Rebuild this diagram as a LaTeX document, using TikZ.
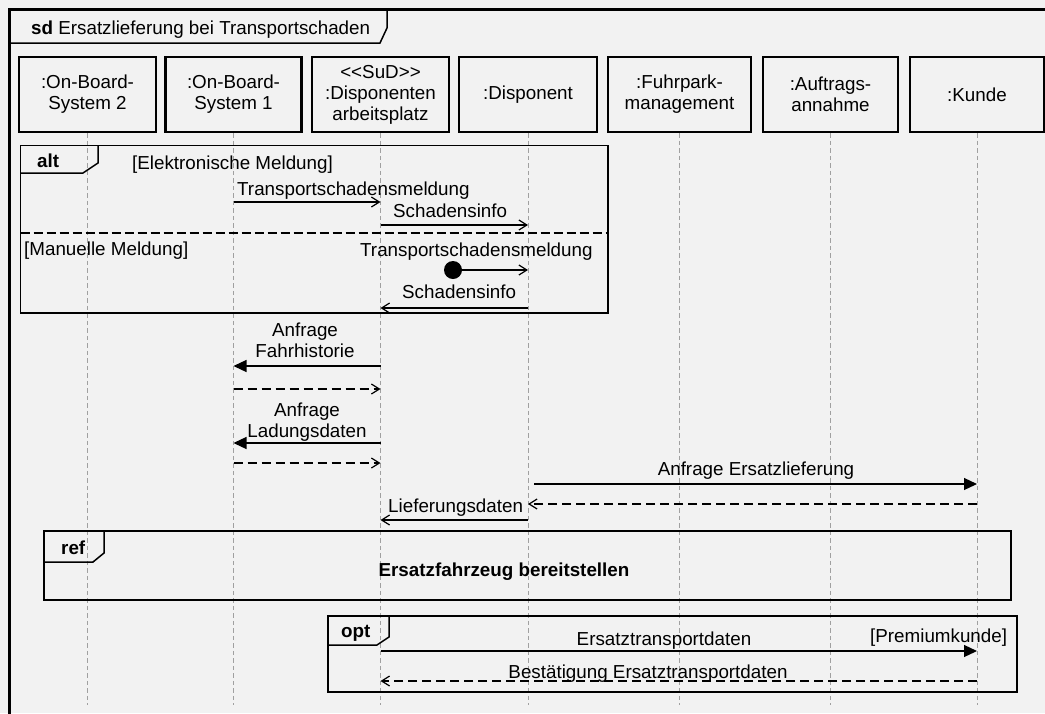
\documentclass[tikz,border=0pt]{standalone}
\usepackage{fontspec}
\setmainfont{Liberation Sans}
\usetikzlibrary{arrows.meta}
\definecolor{bg}{HTML}{F2F2F2}
\definecolor{llgray}{HTML}{A0A0A0}
\begin{document}
\begin{tikzpicture}[x=1pt,y=-1pt,
  font=\fontsize{18.8}{21}\selectfont,
  lbox/.style={draw, line width=2.5pt, minimum height=75pt, inner sep=0pt, align=center},
  life/.style={draw=llgray, line width=0.9pt, dash pattern=on 4.5pt off 3pt},
  msg/.style={line width=1.2pt, -{Straight Barb[length=8pt,width=10pt]}},
  call/.style={line width=1.2pt, -{Triangle[length=13pt,width=12pt]}},
  ret/.style={msg, dash pattern=on 9pt off 5pt},
  frag/.style={draw, line width=1.5pt},
  lbl/.style={inner sep=0pt, anchor=base west},
  clbl/.style={inner sep=0pt, anchor=base},
]
\clip (0,0) rectangle (1045,713);
\fill[bg] (0,0) rectangle (1045,713);
% outer frame
\draw[line width=2.5pt] (9.5,760) -- (9.5,9.5) -- (1100,9.5);
\draw[line width=1.5pt] (9.5,43) -- (380,43) -- (387,28) -- (387,9.5);
\node[lbl] (title) at (31,34) {\textbf{sd} Ersatzlieferung bei Transportschaden};
% lifeline heads
\node[lbox, minimum width=137pt] (L1) at (87.5,94.5) {:On-Board-\\System 2};
\node[lbox, minimum width=136pt] (L2) at (233.5,94.5) {:On-Board-\\System 1};
\node[lbox, minimum width=137pt] (L3) at (380.5,94.5) {<{}<SuD>{}>\\:Disponenten\\arbeitsplatz};
\node[lbox, minimum width=138pt] (L4) at (528,94.5) {:Disponent};
\node[lbox, minimum width=143pt] (L5) at (679.5,94.5) {:Fuhrpark-\\management};
\node[lbox, minimum width=135pt] (L6) at (830.5,94.5) {:Auftrags-\\annahme};
\node[lbox, minimum width=134pt] (L7) at (977,94.5) {:Kunde};
% lifelines
\foreach \n in {L1,L2,L3,L4,L5,L6,L7}{
  \coordinate (\n end) at (\n.south |- 0,705);
  \draw[life] (\n.south) -- (\n end);
}
% alt fragment
\draw[frag] (20.5,145.5) rectangle (608,313);
\draw[frag] (20.5,173) -- (83,173) -- (98,163) -- (98,145.5);
\node[lbl] (altl) at (37,167) {\textbf{alt}};
\node[lbl] (g1) at (132,169) {[Elektronische Meldung]};
\draw[line width=1.2pt, dash pattern=on 9pt off 4pt] (20.5,233) -- (608,233);
\node[lbl] (m1) at (237,195) {Transportschadensmeldung};
\draw[msg] (L2 |- 0,202) -- (L3 |- 0,202);
\node[lbl] (m2) at (393,217) {Schadensinfo};
\draw[msg] (L3 |- 0,225) -- (L4 |- 0,225);
\node[lbl] (g2) at (24,255) {[Manuelle Meldung]};
\node[lbl] (m3) at (360,256) {Transportschadensmeldung};
\node[circle, fill, inner sep=0pt, minimum size=18pt] (found) at (453,270) {};
\draw[msg] (found) -- (L4 |- found);
\node[lbl] (m4) at (402,298) {Schadensinfo};
\draw[msg] (L4 |- 0,308) -- (L3 |- 0,308);
% Fahrhistorie
\node[clbl] (m5a) at (305,336) {Anfrage};
\node[clbl] (m5b) at (305,357) {Fahrhistorie};
\draw[call] (L3 |- 0,366) -- (L2 |- 0,366);
\draw[ret] (L2 |- 0,389) -- (L3 |- 0,389);
% Ladungsdaten
\node[clbl] (m6a) at (307,416) {Anfrage};
\node[clbl] (m6b) at (307,437) {Ladungsdaten};
\draw[call] (L3 |- 0,443) -- (L2 |- 0,443);
\draw[ret] (L2 |- 0,463) -- (L3 |- 0,463);
% Ersatzlieferung
\node[clbl] (m7) at (756,475) {Anfrage Ersatzlieferung};
\draw[call] ([xshift=6pt]L4 |- 0,484) -- (L7 |- 0,484);
\draw[ret] (L7 |- 0,504) -- (L4 |- 0,504);
\node[lbl] (m8) at (388,512) {Lieferungsdaten};
\draw[msg] (L4 |- 0,520) -- (L3 |- 0,520);
% ref fragment
\draw[frag] (44,531) rectangle (1011,600);
\draw[frag] (44,562) -- (93,562) -- (104,553) -- (104,531);
\node[lbl] (refl) at (61,554) {\textbf{ref}};
\node[clbl] (refn) at (504,576) {\textbf{Ersatzfahrzeug bereitstellen}};
% opt fragment
\draw[frag] (328,616) rectangle (1017,692);
\draw[frag] (328,645) -- (377,645) -- (389,637) -- (389,616);
\node[lbl] (optl) at (341,637) {\textbf{opt}};
\node[lbl] (g3) at (870,642) {[Premiumkunde]};
\node[clbl] (m9) at (664,645) {Ersatztransportdaten};
\draw[call] (L3 |- 0,651) -- (L7 |- 0,651);
\node[clbl] (m10) at (648,678) {Bestätigung Ersatztransportdaten};
\draw[ret] (L7 |- 0,681) -- (L3 |- 0,681);
\end{tikzpicture}
\end{document}
